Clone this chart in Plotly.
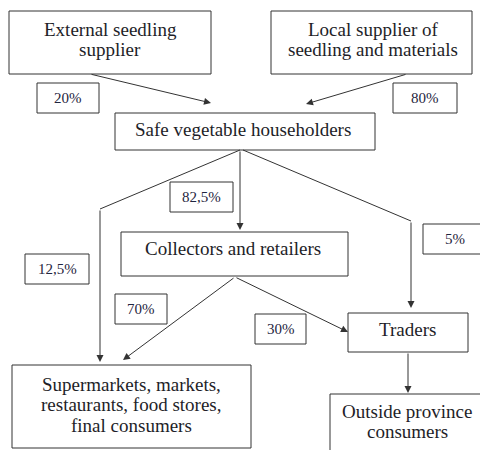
import plotly.graph_objects as go

# ---- content ----
node_lines = [
    ["External seedling", "supplier"],
    ["Local supplier of", "seedling and materials"],
    ["Safe vegetable householders"],
    ["Collectors and retailers"],
    ["Traders"],
    ["Supermarkets, markets,", "restaurants, food stores,", "final consumers"],
    ["Outside province", "consumers"],
]
share_labels = ["20%", "80%", "82,5%", "12,5%", "5%", "70%", "30%"]

# ---- layout (pixel geometry) ----
node_boxes = [  # x0, y0, x1, y1
    (9, 11, 211, 74),
    (271, 11, 472, 74),
    (115, 113, 375, 150),
    (121, 232, 348, 276),
    (348, 313, 468, 352),
    (12, 365, 251, 448),
    (330, 394, 484, 470),
]
node_text_x = [110, 373, 243, 233, 407, 131, 407]
node_first_baseline = [35, 35, 135, 254, 335, 390, 417]
LINE_STEP = 20.5

share_boxes = [
    (37, 83, 99, 113),
    (393, 83, 457, 113),
    (170, 182, 233, 212),
    (25, 254, 89, 284),
    (423, 224, 487, 254),
    (115, 294, 167, 324),
    (255, 314, 306, 344),
]

plain_lines = [  # polyline segments without arrow
    (240, 150, 100, 209),
    (243, 150, 411, 221),
]
arrows = [  # tail x, tail y, head x, head y
    (90, 74, 211, 103),
    (407, 74, 306, 104),
    (100, 209, 100, 362),
    (240, 150, 240, 230),
    (411, 221, 411, 308),
    (235, 277, 123, 360),
    (235, 277, 348, 332),
    (408, 352, 408, 393),
]

LINE = "#333333"
TXT = "#1e1e28"
PTXT = "#1f2540"
FONT = "Liberation Serif"
NODE_SIZE = 19
SHARE_SIZE = 15

fig = go.Figure()
shapes = []
annotations = []

for (x0, y0, x1, y1) in node_boxes + share_boxes:
    shapes.append(dict(type="rect", xref="x", yref="y", x0=x0, y0=y0, x1=x1, y1=y1,
                       line=dict(color=LINE, width=1), fillcolor="white", layer="above"))
for (x0, y0, x1, y1) in plain_lines:
    shapes.append(dict(type="line", xref="x", yref="y", x0=x0, y0=y0, x1=x1, y1=y1,
                       line=dict(color=LINE, width=1)))

for (tx, ty, hx, hy) in arrows:
    annotations.append(dict(x=hx, y=hy, ax=tx, ay=ty, xref="x", yref="y", axref="x", ayref="y",
                            text="", showarrow=True, arrowhead=2, arrowsize=1.4, arrowwidth=1,
                            arrowcolor=LINE, standoff=0, startstandoff=0))

for lines, x, b in zip(node_lines, node_text_x, node_first_baseline):
    for i, ln in enumerate(lines):
        annotations.append(dict(x=x, y=b + i * LINE_STEP - 0.3 * NODE_SIZE, xref="x", yref="y",
                                text=ln, showarrow=False, yanchor="middle",
                                font=dict(family=FONT, size=NODE_SIZE, color=TXT)))

for lab, (x0, y0, x1, y1) in zip(share_labels, share_boxes):
    annotations.append(dict(x=(x0 + x1) / 2, y=(y0 + y1) / 2, xref="x", yref="y", text=lab,
                            showarrow=False, font=dict(family=FONT, size=SHARE_SIZE, color=PTXT)))

fig.update_layout(
    width=480, height=450,
    margin=dict(l=0, r=0, t=0, b=0),
    paper_bgcolor="white", plot_bgcolor="white",
    xaxis=dict(range=[0, 480], visible=False, fixedrange=True),
    yaxis=dict(range=[450, 0], visible=False, fixedrange=True),
    shapes=shapes, annotations=annotations, showlegend=False,
)
fig.write_html("out.html", config={"displayModeBar": False},
               post_script="document.body.style.margin='0';document.body.style.overflow='hidden';")
